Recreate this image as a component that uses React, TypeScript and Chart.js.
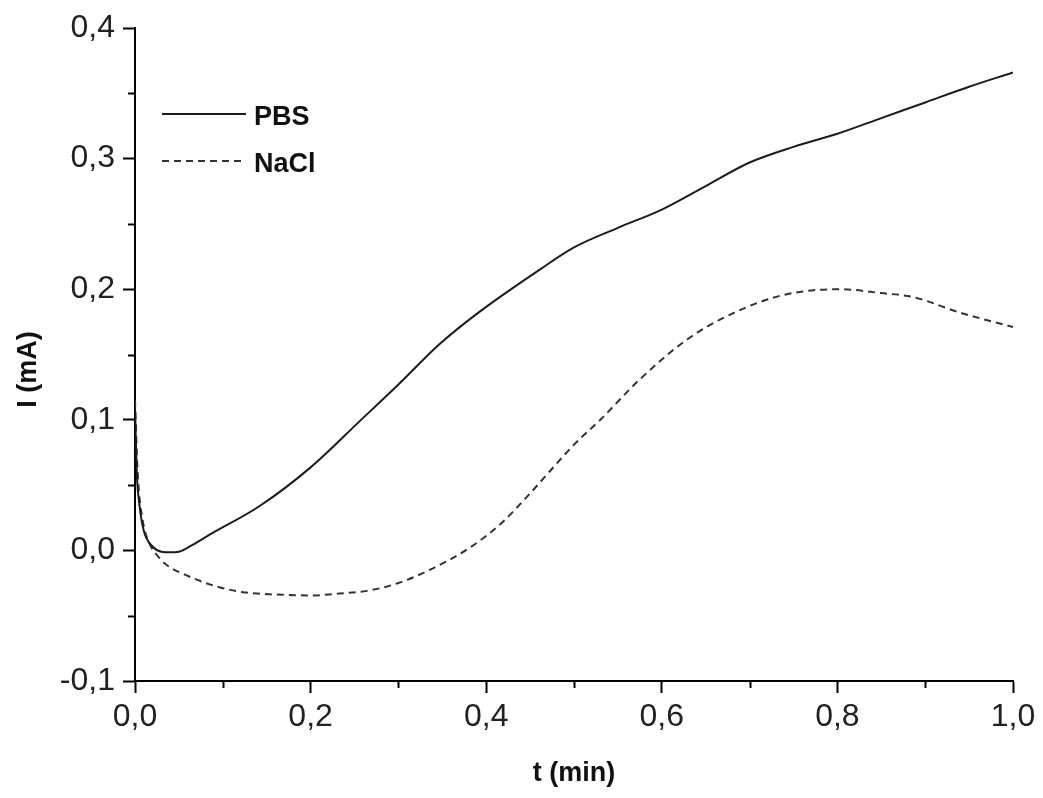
import React, { useEffect, useRef } from "react";
import { Chart, registerables } from "chart.js";

Chart.register(...registerables);

const pbsT = [0, 0.002, 0.005, 0.01, 0.02, 0.03, 0.04, 0.05, 0.065, 0.085, 0.142, 0.199, 0.256, 0.3, 0.347, 0.393, 0.461, 0.5, 0.55, 0.6, 0.65, 0.7, 0.75, 0.8, 0.85, 0.9, 0.95, 1.0];
const pbsI = [0.11, 0.06, 0.035, 0.015, 0.003, -0.001, -0.0015, -0.001, 0.004, 0.012, 0.034, 0.063, 0.099, 0.127, 0.158, 0.183, 0.215, 0.232, 0.247, 0.261, 0.279, 0.297, 0.309, 0.319, 0.331, 0.343, 0.355, 0.366];

const naclT = [0, 0.003, 0.009, 0.016, 0.028, 0.04, 0.055, 0.085, 0.123, 0.169, 0.2, 0.233, 0.264, 0.3, 0.34, 0.38, 0.416, 0.445, 0.473, 0.5, 0.53, 0.575, 0.632, 0.689, 0.735, 0.77, 0.803, 0.85, 0.886, 0.94, 1.0];
const naclI = [0.115, 0.06, 0.022, 0.006, -0.006, -0.013, -0.018, -0.026, -0.032, -0.034, -0.0345, -0.033, -0.031, -0.025, -0.0135, 0.0015, 0.02, 0.04, 0.061, 0.081, 0.1, 0.131, 0.163, 0.184, 0.195, 0.199, 0.2, 0.197, 0.194, 0.182, 0.171];

const seriesLabels = ["PBS", "NaCl"];
const xTitle = "t (min)";
const yTitle = "I (mA)";
const xMinorTicks = [0.1, 0.3, 0.5, 0.7, 0.9];
const yMinorTicks = [-0.05, 0.05, 0.15, 0.25, 0.35];

const FONT = '"Liberation Sans", Arial, sans-serif';

const fmt = (v: number) => {
  const n = Math.abs(v) < 1e-9 ? 0 : v;
  return n.toFixed(1).replace(".", ",");
};

const overlayPlugin = {
  id: "overlay",
  afterDraw(chart: any) {
    const { ctx, chartArea } = chart;
    const xs = chart.scales.x;
    const ys = chart.scales.y;
    ctx.save();
    // minor ticks
    ctx.strokeStyle = "#000";
    ctx.lineWidth = 2;
    xMinorTicks.forEach((v) => {
      const px = Math.round(xs.getPixelForValue(v)) + 0.5;
      ctx.beginPath();
      ctx.moveTo(px, chartArea.bottom);
      ctx.lineTo(px, chartArea.bottom + 7);
      ctx.stroke();
    });
    yMinorTicks.forEach((v) => {
      const py = Math.round(ys.getPixelForValue(v)) + 0.5;
      ctx.beginPath();
      ctx.moveTo(chartArea.left, py);
      ctx.lineTo(chartArea.left - 7, py);
      ctx.stroke();
    });
    // legend
    const ds = chart.data.datasets;
    const legX = chartArea.left + 27;
    const legY = [chartArea.top + 86, chartArea.top + 133];
    ds.forEach((d: any, i: number) => {
      ctx.save();
      ctx.strokeStyle = d.borderColor;
      ctx.lineWidth = d.borderWidth;
      ctx.setLineDash(d.borderDash || []);
      ctx.beginPath();
      ctx.moveTo(legX, legY[i]);
      ctx.lineTo(legX + 84, legY[i]);
      ctx.stroke();
      ctx.restore();
      ctx.fillStyle = "#111";
      ctx.font = `bold 27px ${FONT}`;
      ctx.textBaseline = "middle";
      ctx.textAlign = "left";
      ctx.fillText(d.label, legX + 92, legY[i] + 4);
    });
    // axis titles
    ctx.fillStyle = "#111";
    ctx.font = `bold 27px ${FONT}`;
    ctx.textAlign = "center";
    ctx.textBaseline = "middle";
    ctx.fillText(xTitle, (chartArea.left + chartArea.right) / 2, 774);
    ctx.save();
    ctx.translate(29, (chartArea.top + chartArea.bottom) / 2 + 15);
    ctx.rotate(-Math.PI / 2);
    ctx.fillText(yTitle, 0, 0);
    ctx.restore();
    ctx.restore();
  },
};

export default function App() {
  const ref = useRef<HTMLCanvasElement>(null);
  useEffect(() => {
    if (!ref.current) return;
    const chart = new Chart(ref.current, {
      type: "line",
      data: {
        datasets: [
          {
            label: seriesLabels[0],
            data: pbsT.map((t, i) => ({ x: t, y: pbsI[i] })),
            borderColor: "#1c1c1c",
            borderWidth: 2,
            pointRadius: 0,
            cubicInterpolationMode: "monotone",
            fill: false,
          },
          {
            label: seriesLabels[1],
            data: naclT.map((t, i) => ({ x: t, y: naclI[i] })),
            borderColor: "#333",
            borderWidth: 2,
            borderDash: [7, 5],
            pointRadius: 0,
            cubicInterpolationMode: "monotone",
            fill: false,
          },
        ],
      },
      options: {
        responsive: false,
        animation: false,
        layout: { padding: { top: 28, right: 30, left: 0, bottom: 0 } },
        plugins: { legend: { display: false }, tooltip: { enabled: false } },
        scales: {
          x: {
            type: "linear",
            min: 0,
            max: 1,
            afterFit: (s: any) => {
              s.height = 117;
            },
            ticks: {
              stepSize: 0.2,
              callback: (v: any) => fmt(Number(v)),
              font: { family: FONT, size: 32 },
              color: "#222",
              padding: 5,
              maxRotation: 0,
            },
            grid: {
              drawOnChartArea: false,
              drawTicks: true,
              tickLength: 12,
              tickWidth: 2,
              tickColor: "#000",
            },
            border: { display: true, color: "#000", width: 2 },
          },
          y: {
            type: "linear",
            min: -0.1,
            max: 0.4,
            afterFit: (s: any) => {
              s.width = 135;
            },
            ticks: {
              stepSize: 0.1,
              callback: (v: any) => fmt(Number(v)),
              font: { family: FONT, size: 32 },
              color: "#222",
              padding: 8,
            },
            grid: {
              drawOnChartArea: false,
              drawTicks: true,
              tickLength: 12,
              tickWidth: 2,
              tickColor: "#000",
            },
            border: { display: true, color: "#000", width: 2 },
          },
        },
      },
      plugins: [overlayPlugin],
    });
    return () => chart.destroy();
  }, []);
  return (
    <div style={{ position: "absolute", left: 0, top: 0, width: 1043, height: 798, background: "#fff" }}>
      <canvas ref={ref} width={1043} height={798} style={{ display: "block" }} />
    </div>
  );
}
